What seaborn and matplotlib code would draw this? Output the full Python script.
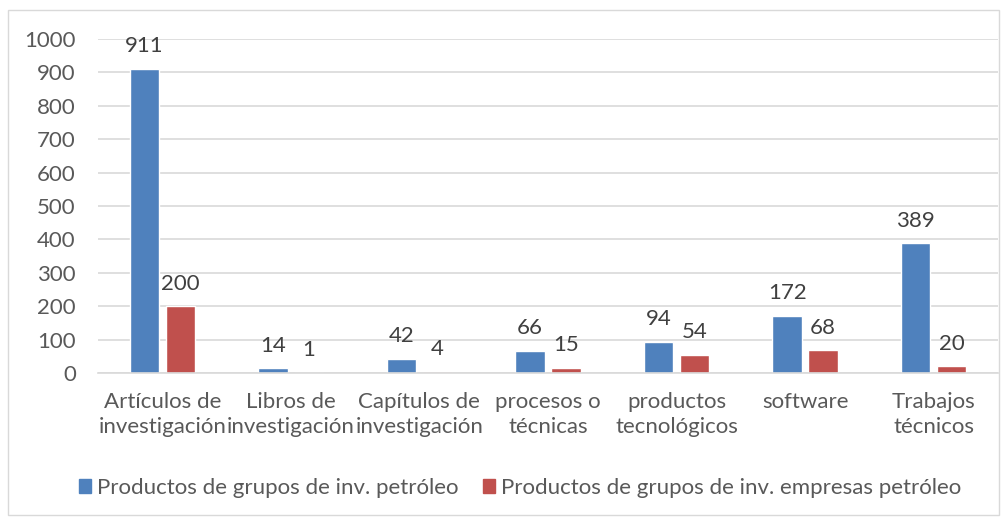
import matplotlib
matplotlib.use("Agg")
import matplotlib.pyplot as plt
import matplotlib.patches as mpatches
import seaborn as sns
import pandas as pd

# Data
categories = [
    "Artículos de\ninvestigación",
    "Libros de\ninvestigación",
    "Capítulos de\ninvestigación",
    "procesos o\ntécnicas",
    "productos\ntecnológicos",
    "software",
    "Trabajos\ntécnicos",
]
series_names = [
    "Productos de grupos de inv. petróleo",
    "Productos de grupos de inv. empresas petróleo",
]
grupos_petroleo = [911, 14, 42, 66, 94, 172, 389]
empresas_petroleo = [200, 1, 4, 15, 54, 68, 20]
y_ticks = [0, 100, 200, 300, 400, 500, 600, 700, 800, 900, 1000]

colors = ["#4F81BD", "#C0504D"]
text_color = "#595959"
grid_color = "#D9D9D9"
fs = 16

df = pd.DataFrame({
    "categoria": categories * 2,
    "serie": [series_names[0]] * len(categories) + [series_names[1]] * len(categories),
    "valor": grupos_petroleo + empresas_petroleo,
})

sns.set_theme(style="white")
plt.rcParams["font.family"] = ["Lato", "DejaVu Sans"]

fig = plt.figure(figsize=(10.06, 5.19), dpi=100)
ax = fig.add_axes([98 / 1006, 1 - 373 / 519, 900 / 1006, 334 / 519])

sns.barplot(data=df, x="categoria", y="valor", hue="serie", order=categories,
            hue_order=series_names, palette=colors, width=0.56, gap=0.18,
            saturation=1, legend=False, ax=ax)

# the tiny "4" bar appears pale in the reference
ax.containers[1].patches[2].set_alpha(0.35)

for cont in ax.containers:
    ax.bar_label(cont, padding=9, fontsize=fs, color="#404040")

ax.set_ylim(0, 1000)
ax.set_xlim(-0.5, len(categories) - 0.5)
ax.set_yticks(y_ticks)
ax.yaxis.grid(True, color=grid_color, linewidth=1.2)
ax.set_axisbelow(True)
for side in ["top", "right", "left"]:
    ax.spines[side].set_visible(False)
ax.spines["bottom"].set_color(grid_color)
ax.spines["bottom"].set_linewidth(1.2)
ax.tick_params(axis="y", length=0, pad=16, labelsize=fs, labelcolor=text_color)
ax.tick_params(axis="x", length=0, pad=14, labelsize=fs, labelcolor=text_color)
for lbl in ax.get_xticklabels():
    lbl.set_linespacing(1.3)
ax.set_xlabel("")
ax.set_ylabel("")

handles = [mpatches.Patch(color=c, label=n) for c, n in zip(colors, series_names)]
fig.legend(handles=handles, loc="center", bbox_to_anchor=(0.517, 1 - 488 / 519),
           ncol=2, frameon=False, fontsize=fs, labelcolor=text_color,
           handlelength=0.55, handleheight=0.55, handletextpad=0.25, columnspacing=1.1)

# outer chart border
fig.patches.append(mpatches.Rectangle((8 / 1006, 4 / 519), 991 / 1006, 505 / 519,
                                      transform=fig.transFigure, fill=False,
                                      edgecolor=grid_color, linewidth=1))

fig.savefig("out.png", dpi=100)
